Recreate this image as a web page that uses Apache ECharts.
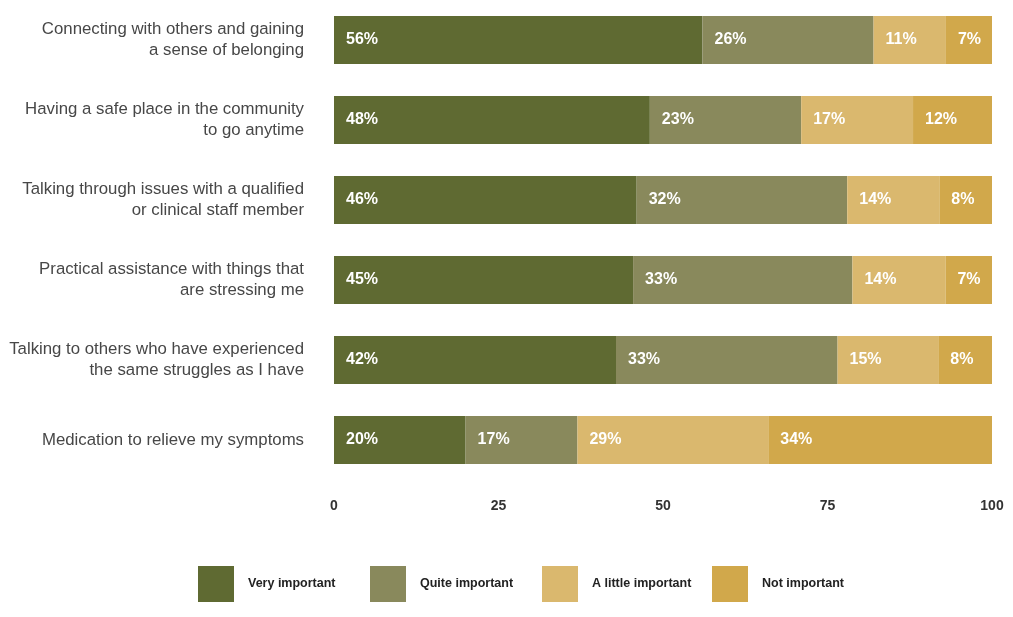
<!DOCTYPE html>
<html>
<head>
<meta charset="utf-8">
<script src="https://cdn.jsdelivr.net/npm/echarts@6/dist/echarts.min.js"></script>
<style>
  html, body { margin: 0; padding: 0; background: #fff; }
  #chart { width: 1013px; height: 617px; }
</style>
</head>
<body>
<div id="chart"></div>
<script>
const categories = [
  "Connecting with others and gaining\na sense of belonging",
  "Having a safe place in the community\nto go anytime",
  "Talking through issues with a qualified\nor clinical staff member",
  "Practical assistance with things that\nare stressing me",
  "Talking to others who have experienced\nthe same struggles as I have",
  "Medication to relieve my symptoms"
];
const veryImportant = [56, 48, 46, 45, 42, 20];
const quiteImportant = [26, 23, 32, 33, 33, 17];
const littleImportant = [11, 17, 14, 14, 15, 29];
const notImportant = [7, 12, 8, 7, 8, 34];
const xTicks = [0, 25, 50, 75, 100];
const seriesNames = ["Very important", "Quite important", "A little important", "Not important"];
const colors = ["#5f6a32", "#89895c", "#dab86e", "#d1a84b"];

const FONT = "Liberation Sans, Arial, sans-serif";
const chart = echarts.init(document.getElementById("chart"));

// each row is drawn as a share of its own total (rows with rounding gaps still fill to 100)
const allRows = [veryImportant, quiteImportant, littleImportant, notImportant];
const rowTotals = categories.map((_, i) => allRows.reduce((s, arr) => s + arr[i], 0));

const makeSeries = (name, data, color) => ({
  name: name,
  type: "bar",
  stack: "total",
  data: data.map((v, i) => ({ value: (v / rowTotals[i]) * 100, raw: v })),
  barWidth: 48,
  itemStyle: { color: color },
  label: {
    show: true,
    position: "insideLeft",
    distance: 12,
    formatter: (p) => p.data.raw + "%",
    color: "#fff",
    fontWeight: "bold",
    fontSize: 16,
    fontFamily: FONT
  },
  emphasis: { disabled: true }
});

const legendLefts = [193, 365, 537, 707];
const legends = seriesNames.map((name, i) => ({
  left: legendLefts[i],
  top: 561,
  itemWidth: 36,
  itemHeight: 36,
  icon: "rect",
  data: [name],
  textStyle: {
    color: "#222",
    fontWeight: "bold",
    fontSize: 12.5,
    fontFamily: FONT,
    padding: [0, 0, 0, 9]
  }
}));

const option = {
  backgroundColor: "#fff",
  animation: false,
  grid: { left: 334, right: 21, top: 0, height: 480, containLabel: false },
  legend: legends,
  xAxis: {
    type: "value",
    min: xTicks[0],
    max: xTicks[xTicks.length - 1],
    interval: 25,
    axisLine: { show: false },
    axisTick: { show: false },
    splitLine: { show: false },
    axisLabel: {
      margin: 19,
      color: "#333",
      fontWeight: "bold",
      fontSize: 14,
      fontFamily: FONT
    }
  },
  yAxis: {
    type: "category",
    inverse: true,
    data: categories,
    axisLine: { show: false },
    axisTick: { show: false },
    axisLabel: {
      margin: 30,
      color: "#474747",
      fontSize: 16.8,
      lineHeight: 21,
      fontFamily: FONT,
      align: "right",
      padding: [2, 0, 0, 0]
    }
  },
  series: [
    makeSeries(seriesNames[0], veryImportant, colors[0]),
    makeSeries(seriesNames[1], quiteImportant, colors[1]),
    makeSeries(seriesNames[2], littleImportant, colors[2]),
    makeSeries(seriesNames[3], notImportant, colors[3])
  ]
};

chart.setOption(option);
</script>
</body>
</html>
